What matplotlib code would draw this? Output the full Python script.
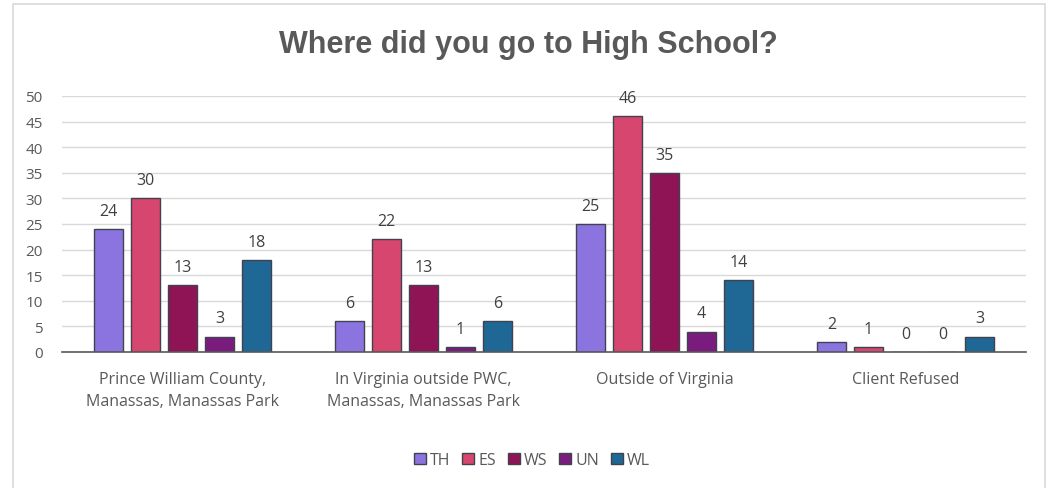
import matplotlib
matplotlib.use("Agg")
import matplotlib.pyplot as plt
import numpy as np
from matplotlib.patches import Rectangle

categories = ["Prince William County,\nManassas, Manassas Park",
              "In Virginia outside PWC,\nManassas, Manassas Park",
              "Outside of Virginia",
              "Client Refused"]
series_names = ["TH", "ES", "WS", "UN", "WL"]
TH = [24, 6, 25, 2]
ES = [30, 22, 46, 1]
WS = [13, 13, 35, 0]
UN = [3, 1, 4, 0]
WL = [18, 6, 14, 3]
series_values = [TH, ES, WS, UN, WL]
colors = ["#8B74E0", "#D6466F", "#8F1455", "#7A1C7E", "#1F6795"]
yticks = [0, 5, 10, 15, 20, 25, 30, 35, 40, 45, 50]

plt.rcParams['font.family'] = ['Open Sans', 'DejaVu Sans']

W, H = 1053, 489
fig = plt.figure(figsize=(W/100, H/100), dpi=100)
fig.patch.set_facecolor("white")

# chart border
fig.add_artist(Rectangle((13/W, -0.05), (1045-13)/W, 1 - 5/H + 0.05,
                         transform=fig.transFigure, fill=False,
                         edgecolor="#D9D9D9", linewidth=1.2))

ax = fig.add_axes([62/W, 1 - 353/H, (1026-62)/W, (353-97)/H])
n = len(categories)
x = np.arange(n)
bw = 0.124
step = 0.1535
for i, (name, vals, c) in enumerate(zip(series_names, series_values, colors)):
    pos = x + (i - 2) * step
    ax.bar(pos, vals, width=bw, color=c, edgecolor="#404250", linewidth=1.0,
           label=name, zorder=3)
    for p, v in zip(pos, vals):
        ax.text(p, v + 2.0, str(v), ha="center", va="bottom", fontsize=11.5,
                color="#404040", zorder=4)

ax.set_xlim(-0.5, n - 0.5)
ax.set_ylim(0, 50)
ax.set_yticks(yticks)
ax.yaxis.grid(True, color="#D9D9D9", linewidth=1.0, zorder=0)
ax.set_axisbelow(True)
for s in ["top", "right", "left"]:
    ax.spines[s].set_visible(False)
ax.spines["bottom"].set_color("#595959")
ax.spines["bottom"].set_linewidth(1.2)
ax.spines["bottom"].set_zorder(5)
ax.tick_params(axis="y", length=0, labelsize=11, labelcolor="#595959", pad=14)
ax.tick_params(axis="x", length=0, labelsize=11.5, labelcolor="#595959", pad=14)
ax.set_xticks(x)
ax.set_xticklabels(categories, linespacing=1.45)

fig.text(528/W, 1 - 45/H, "Where did you go to High School?",
         ha="center", va="center", fontsize=22, fontweight="bold",
         color="#595959", family=["Liberation Sans", "DejaVu Sans"])

leg = fig.legend(loc="center", bbox_to_anchor=(532/W, 1 - 461/H), ncol=5,
                 frameon=False, fontsize=11.5, handlelength=0.75, handleheight=0.75,
                 handletextpad=0.25, columnspacing=0.75)
for t in leg.get_texts():
    t.set_color("#595959")

fig.savefig("out.png", dpi=100, facecolor="white")
